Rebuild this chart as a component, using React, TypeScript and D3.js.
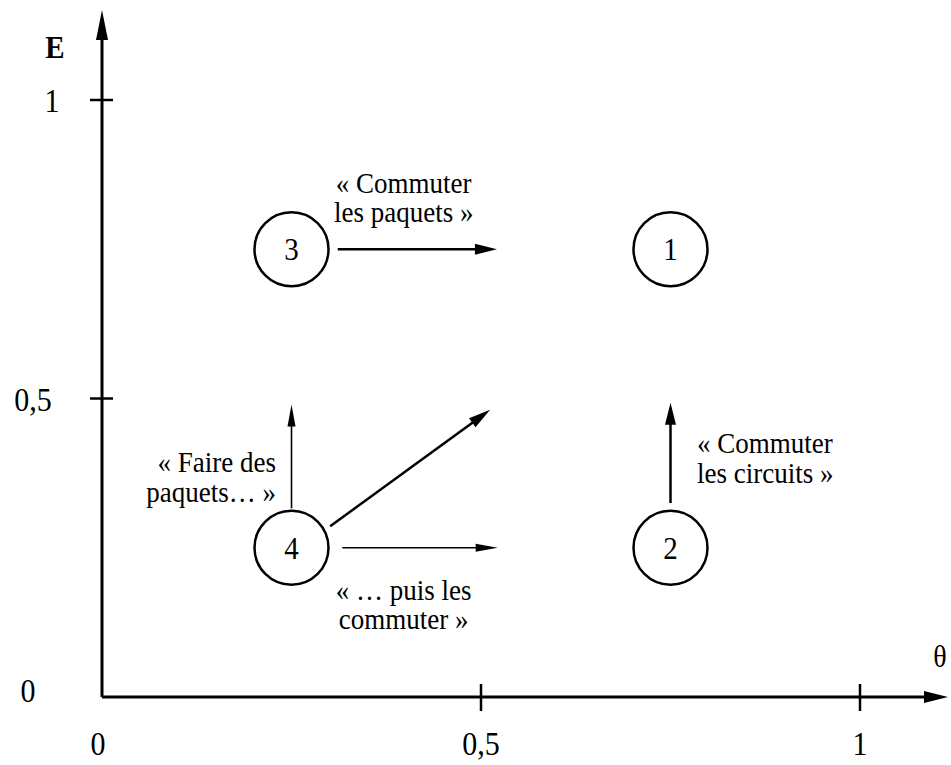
import * as d3 from "d3";

// states of the diagram (theta, E)
const nodeIds = ["1", "2", "3", "4"];
const nodeTheta = [0.75, 0.75, 0.25, 0.25];
const nodeE = [0.75, 0.25, 0.75, 0.25];

// transition arrows: start / end in data units, width
const arrowX0 = [0.311, 0.75, 0.25, 0.301, 0.317];
const arrowY0 = [0.75, 0.325, 0.316, 0.286, 0.25];
const arrowX1 = [0.521, 0.75, 0.25, 0.512, 0.522];
const arrowY1 = [0.75, 0.493, 0.49, 0.481, 0.25];
const arrowW = [2.5, 2.5, 1.6, 2.5, 1.6];

// annotations
const noteLines = [
  ["« Commuter", "les paquets »"],
  ["« Commuter", "les circuits »"],
  ["« Faire des", "paquets… »"],
  ["« … puis les", "commuter »"],
];
const noteX = [0.398, 0.785, 0.2296, 0.398];
const noteY = [0.845, 0.409, 0.377, 0.163];
const noteAnchor = ["middle", "start", "end", "middle"];

const xTicks = [0, 0.5, 1];
const yTicks = [0, 0.5, 1];
const tickText = ["0", "0,5", "1"];

const W = 951;
const H = 765;
const FONT = "'Liberation Serif', 'DejaVu Serif', serif";
const STRETCH = 1.1; // scanned glyphs are a little taller than wide

const x = d3.scaleLinear().domain([0, 1]).range([102, 860]);
const y = d3.scaleLinear().domain([0, 1]).range([697, 100]);

const head = (x0: number, y0: number, x1: number, y1: number, len: number, half: number) => {
  const a = Math.atan2(y1 - y0, x1 - x0);
  const bx = x1 - len * Math.cos(a);
  const by = y1 - len * Math.sin(a);
  const px = -Math.sin(a) * half;
  const py = Math.cos(a) * half;
  return `${x1},${y1} ${bx + px},${by + py} ${bx - px},${by - py}`;
};

const Label = ({ tx, ty, size, anchor = "middle", bold = false, children }: any) => (
  <g transform={`translate(${tx},${ty}) scale(1,${STRETCH})`}>
    <text x={0} y={0} fontSize={size} textAnchor={anchor} fontWeight={bold ? "bold" : "normal"}>
      {children}
    </text>
  </g>
);

export default function App() {
  const xEnd = 948;
  const yEnd = 10;
  const yLabelX = [28, 33, 52];
  const yLabelDy = [5, 12, 12];
  return (
    <svg width={W} height={H} style={{ position: "absolute", left: 0, top: 0, background: "#fff" }}>
      <g fontFamily={FONT} fill="#000">
        {/* axes */}
        <line x1={x(0)} y1={y(0)} x2={xEnd - 14} y2={y(0)} stroke="#000" strokeWidth={3} />
        <polygon points={head(x(0), y(0), xEnd, y(0), 24, 6)} />
        <line x1={x(0)} y1={y(0)} x2={x(0)} y2={yEnd + 16} stroke="#000" strokeWidth={3} />
        <polygon points={head(x(0), y(0), x(0), yEnd, 30, 6)} />

        {xTicks.slice(1).map((t) => (
          <line key={"xt" + t} x1={x(t)} x2={x(t)} y1={y(0) - 13} y2={y(0) + 14} stroke="#000" strokeWidth={2.5} />
        ))}
        {yTicks.slice(1).map((t) => (
          <line key={"yt" + t} x1={x(0) - 12} x2={x(0) + 11} y1={y(t)} y2={y(t)} stroke="#000" strokeWidth={2.5} />
        ))}
        {xTicks.map((t, i) => (
          <Label key={"xl" + t} tx={i === 0 ? x(t) - 4 : x(t)} ty={y(0) + 58} size={30}>
            {tickText[i]}
          </Label>
        ))}
        {yTicks.map((t, i) => (
          <Label key={"yl" + t} tx={yLabelX[i]} ty={y(t) + yLabelDy[i]} size={30}>
            {tickText[i]}
          </Label>
        ))}
        <Label tx={55} ty={58} size={29} bold>E</Label>
        <Label tx={940} ty={667} size={28}>θ</Label>

        {/* states */}
        {nodeIds.map((id, i) => (
          <g key={"n" + id}>
            <circle cx={x(nodeTheta[i])} cy={y(nodeE[i])} r={37} fill="none" stroke="#000" strokeWidth={2.5} />
            <Label tx={x(nodeTheta[i])} ty={y(nodeE[i]) + 11} size={29}>{id}</Label>
          </g>
        ))}

        {/* transitions */}
        {arrowX0.map((_, i) => {
          const sx = x(arrowX0[i]);
          const sy = y(arrowY0[i]);
          const ex = x(arrowX1[i]);
          const ey = y(arrowY1[i]);
          const a = Math.atan2(ey - sy, ex - sx);
          return (
            <g key={"a" + i}>
              <line x1={sx} y1={sy} x2={ex - 10 * Math.cos(a)} y2={ey - 10 * Math.sin(a)} stroke="#000" strokeWidth={arrowW[i]} />
              <polygon points={head(sx, sy, ex, ey, 22, arrowW[i] > 2 ? 5.5 : 4)} />
            </g>
          );
        })}

        {/* annotations */}
        {noteLines.map((lines, i) => (
          <Label key={"t" + i} tx={x(noteX[i])} ty={y(noteY[i])} size={27} anchor={noteAnchor[i]}>
            {lines.map((l, j) => (
              <tspan key={j} x={0} dy={j === 0 ? 0 : 27}>{l}</tspan>
            ))}
          </Label>
        ))}
      </g>
    </svg>
  );
}
